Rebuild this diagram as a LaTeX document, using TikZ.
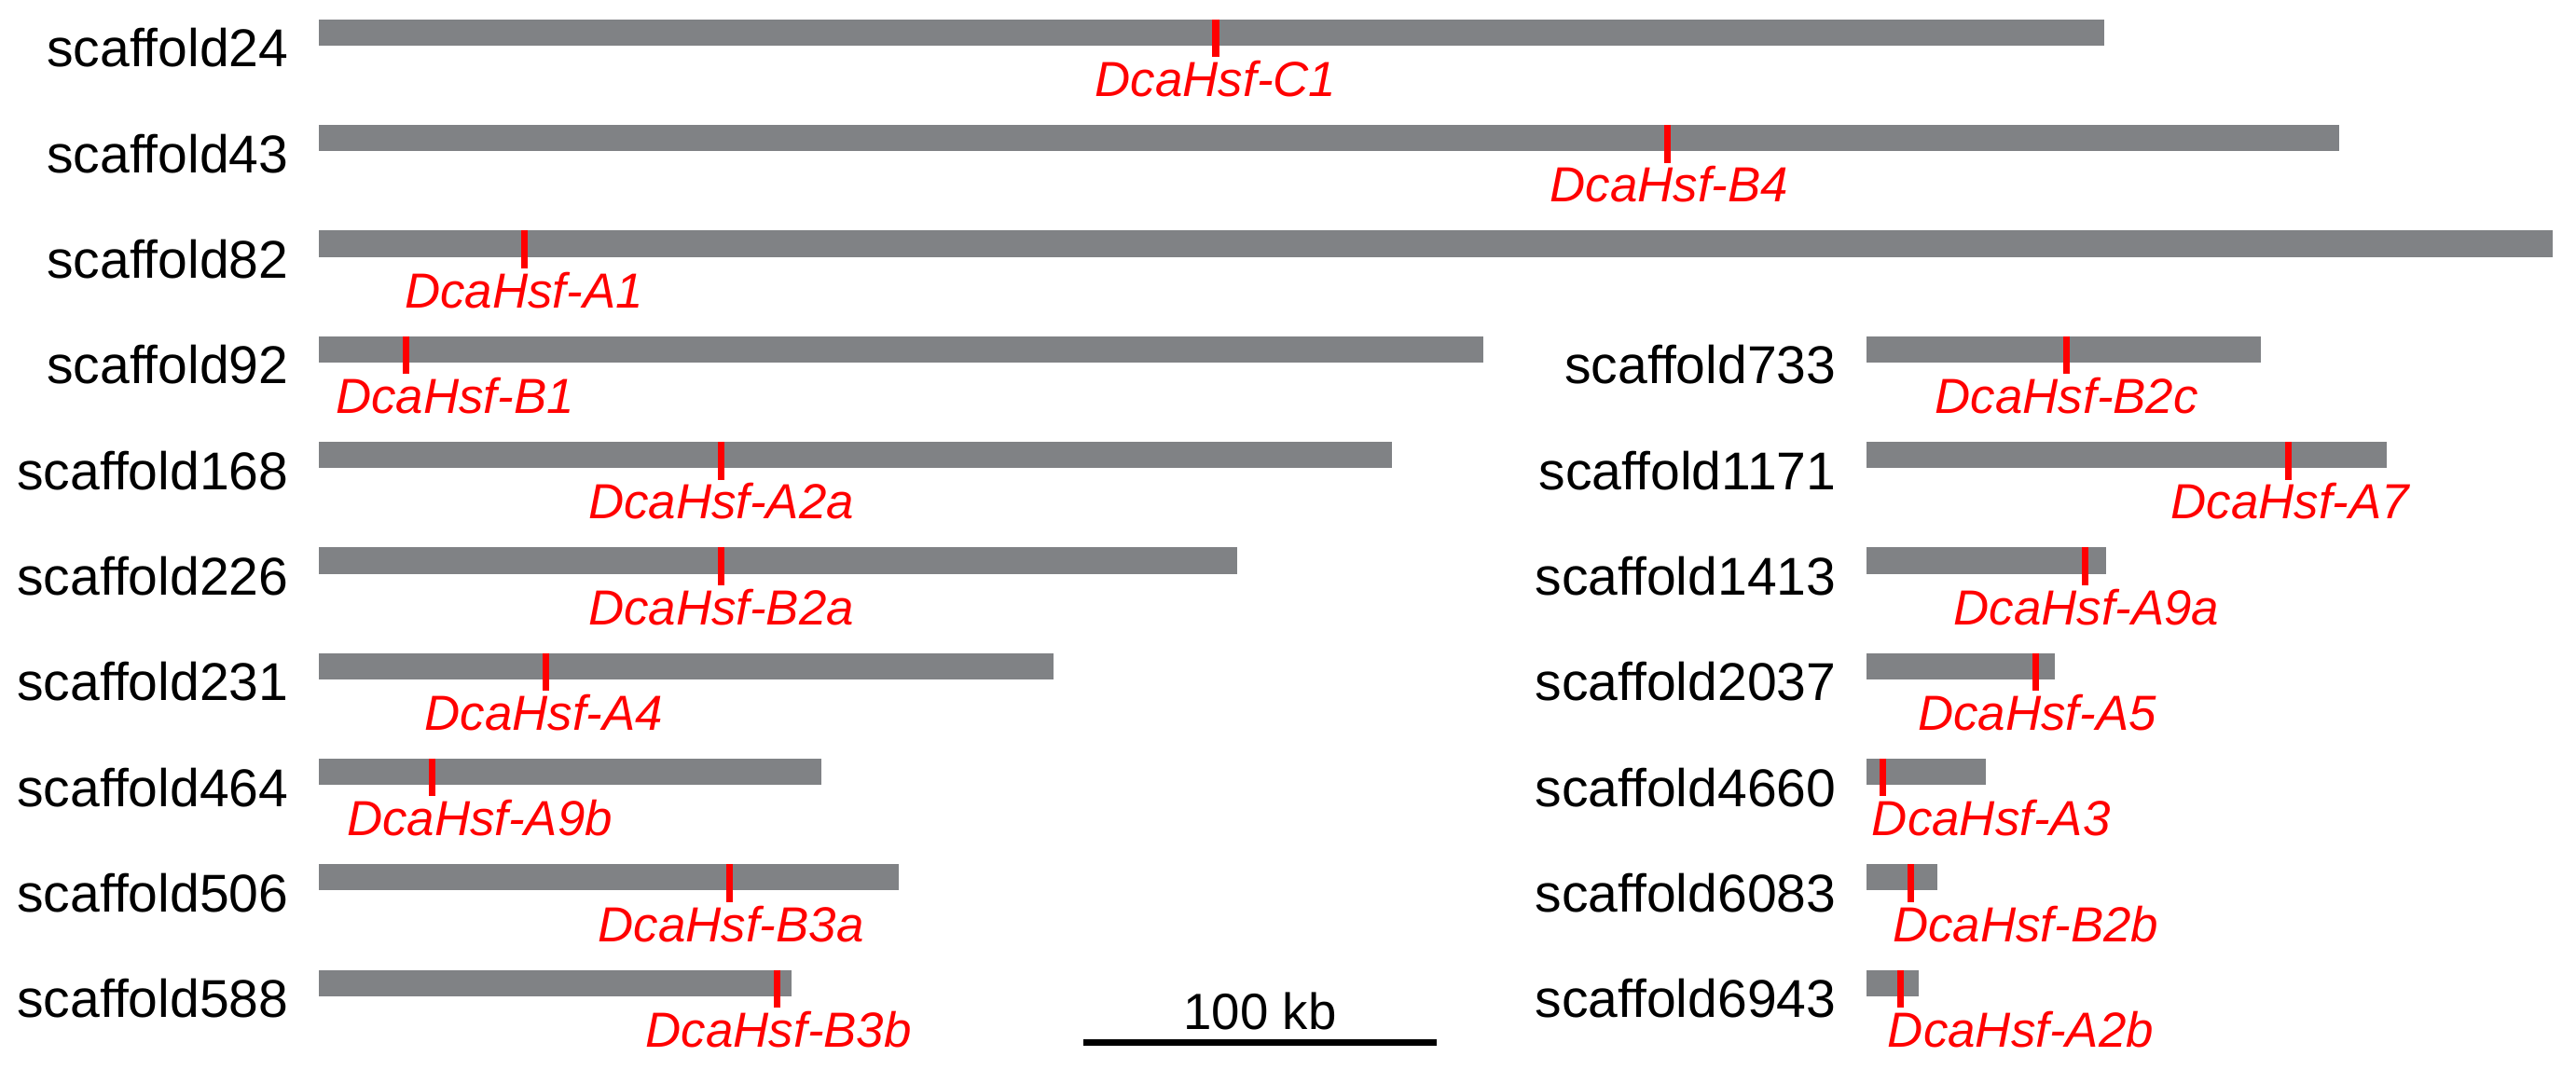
\documentclass[tikz,border=0pt]{standalone}
\usepackage{fontspec}
\setmainfont{Liberation Sans}
\definecolor{bargray}{RGB}{128,130,133}
\begin{document}
\begin{tikzpicture}[x=0.5pt,y=-0.5pt,
  scaf/.style={font=\fontsize{16.2}{19}\selectfont, inner sep=0pt, anchor=base east},
  gene/.style={font=\fontsize{15}{18}\selectfont\itshape, text=red, inner sep=0pt, anchor=base},
  bar/.style={fill=bargray},
  markline/.style={draw=red, line width=2pt},
  scalebar/.style={draw=black, line width=2pt}]
\useasboundingbox (0,0) rectangle (1568,651.4);
% left column
\foreach \r/\n/\e/\m/\c/\g in {0/24/1281/740/740/C1, 1/43/1424/1015/1016/B4, 2/82/1554/319/319/A1,
  3/92/903/247/277/B1, 4/168/847/439/439/A2a, 5/226/753/439/439/B2a, 6/231/641/332/331/A4,
  7/464/500/263/292/A9b, 8/506/547/444/445/B3a, 9/588/482/473/474/B3b}{
  \pgfmathsetmacro\t{11.8+64.3*\r}
  \fill[bar] (194,\t) rectangle (\e,\t+16);
  \draw[markline] (\m,\t) -- (\m,\t+23);
  \node[scaf] (s\n) at (176,\t+29) {scaffold\n};
  \node[gene] (g\n) at (\c,\t+47) {DcaHsf-\g};
}
% right column
\foreach \r/\n/\e/\m/\c/\g in {3/733/1376/1258/1258/B2c, 4/1171/1453/1393/1394/A7, 5/1413/1282/1269/1270/A9a,
  6/2037/1251/1239/1240/A5, 7/4660/1209/1146/1212/A3, 8/6083/1179/1163/1233/B2b, 9/6943/1168/1157/1230/A2b}{
  \pgfmathsetmacro\t{11.8+64.3*\r}
  \fill[bar] (1136,\t) rectangle (\e,\t+16);
  \draw[markline] (\m,\t) -- (\m,\t+23);
  \node[scaf] (s\n) at (1118,\t+29) {scaffold\n};
  \node[gene] (g\n) at (\c,\t+47) {DcaHsf-\g};
}
% scale bar
\coordinate (sbl) at (659.5,635);
\coordinate (sbr) at (874.6,635);
\draw[scalebar] (sbl) -- (sbr);
\node[font=\fontsize{15.5}{18}\selectfont, inner sep=0pt, anchor=base] (scale) at (767,626.6) {100 kb};
\end{tikzpicture}
\end{document}
